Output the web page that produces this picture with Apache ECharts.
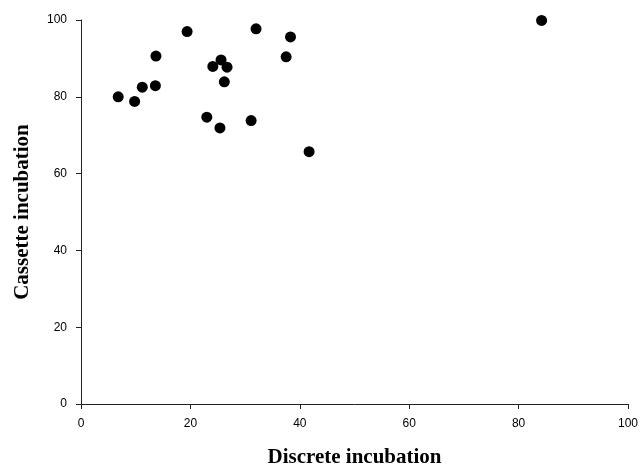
<!DOCTYPE html>
<html>
<head>
<meta charset="utf-8">
<script src="https://cdn.jsdelivr.net/npm/echarts@6/dist/echarts.min.js"></script>
<style>
  html, body { margin: 0; padding: 0; background: #fff; }
  #chart { width: 642px; height: 467px; }
</style>
</head>
<body>
<div id="chart"></div>
<script>
// Discrete vs. cassette incubation values
const discrete = [6.8, 9.8, 11.2, 13.6, 13.7, 19.4, 24.1, 25.6, 26.7, 26.2, 23.0, 25.4, 31.1, 32.0, 37.5, 38.3, 41.7, 84.2];
const cassette = [80.0, 78.8, 82.5, 82.9, 90.6, 97.0, 87.9, 89.6, 87.7, 83.9, 74.7, 71.9, 73.8, 97.7, 90.4, 95.6, 65.7, 99.9];
const xTitle = 'Discrete incubation';
const yTitle = 'Cassette incubation';

const points = discrete.map((x, i) => [x, cassette[i]]);

const chart = echarts.init(document.getElementById('chart'), null, { renderer: 'canvas' });

const axisCommon = {
  min: 0,
  max: 100,
  interval: 20,
  axisLine: { show: true, lineStyle: { color: '#222', width: 1 } },
  axisTick: { show: true, length: 5, lineStyle: { color: '#222' } },
  splitLine: { show: false },
  axisLabel: { color: '#000', fontSize: 12, margin: 14, fontFamily: 'Liberation Sans, Arial, sans-serif' },
  nameLocation: 'middle',
  nameTextStyle: { color: '#000', fontSize: 21, fontWeight: 'bold', fontFamily: 'Liberation Serif, Times New Roman, serif' }
};

chart.setOption({
  backgroundColor: '#fff',
  animation: false,
  grid: { left: 81, right: 14, top: 20, bottom: 63, outerBoundsMode: 'none', containLabel: false },
  xAxis: Object.assign({}, axisCommon, {
    type: 'value',
    name: xTitle,
    nameGap: 43
  }),
  yAxis: Object.assign({}, axisCommon, {
    type: 'value',
    name: yTitle,
    nameGap: 48
  }),
  series: [{
    type: 'scatter',
    data: points,
    symbol: 'circle',
    symbolSize: 11,
    itemStyle: { color: '#000', opacity: 1 }
  }]
});
</script>
</body>
</html>
